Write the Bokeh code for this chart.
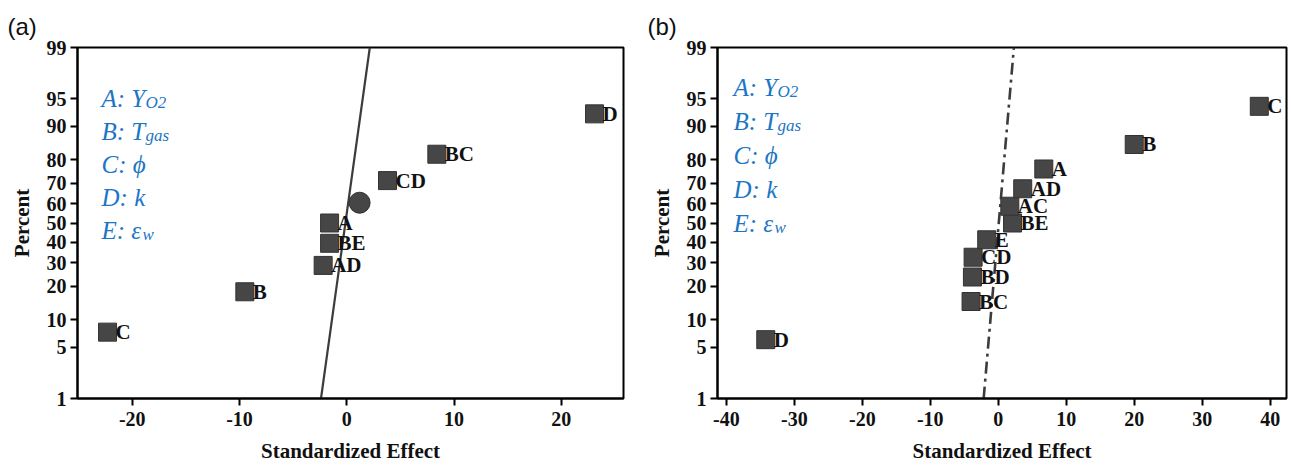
from statistics import NormalDist
from bokeh.plotting import figure
from bokeh.models import FixedTicker, Range1d, Label, ColumnDataSource
from bokeh.layouts import row
from bokeh.embed import file_html
from bokeh.resources import INLINE
from bokeh.core.properties import value

# ---------------- data ----------------
pct_ticks = [1, 5, 10, 20, 30, 40, 50, 60, 70, 80, 90, 95, 99]

a_terms = ["C", "B", "AD", "BE", "A", "CD", "BC", "D"]
a_effect = [-22.3, -9.5, -2.2, -1.6, -1.6, 3.8, 8.4, 23.1]
a_percent = [7.4, 18.1, 28.7, 39.4, 50.0, 71.3, 81.9, 92.6]
a_other_effect = [1.2]
a_other_percent = [60.6]
a_line_effect = [-2.4, 2.15]
a_line_percent = [1, 99]
a_xticks = [-20, -10, 0, 10, 20]

b_terms = ["D", "BC", "BD", "CD", "E", "BE", "AC", "AD", "A", "B", "C"]
b_effect = [-34.2, -4.0, -3.8, -3.7, -1.7, 2.1, 1.7, 3.6, 6.7, 20.0, 38.4]
b_percent = [6.1, 14.9, 23.7, 32.5, 41.2, 50.0, 58.8, 67.5, 76.3, 85.1, 93.9]
b_line_effect = [-2.15, 2.3]
b_line_percent = [1, 99]
b_xticks = [-40, -30, -20, -10, 0, 10, 20, 30, 40]

legend_main = ["A: Y", "B: T", "C: \u03d5", "D: k", "E: \u03b5"]
legend_sub = ["O2", "gas", "", "", "w"]

# ---------------- helpers ----------------
nd = NormalDist()
def z(p):
    return nd.inv_cdf(p / 100.0)

SERIF = "Liberation Serif"
BLUE = "#1c76c4"
MARK = "#464646"


def make_panel(tag, width, top, bottom, right, xr, xticks, terms, eff, pct,
               line_eff, line_pct, line_dash, line_width, other_eff=None,
               other_pct=None, legend_x=24, legend_y0=0.0, legend_step=33):
    height = 466
    p = figure(width=width, height=height, output_backend="svg",
               toolbar_location=None,
               x_range=Range1d(*xr), y_range=Range1d(z(1), z(99)),
               min_border_left=77, min_border_right=right,
               min_border_top=top, min_border_bottom=bottom)
    p.xgrid.visible = False
    p.ygrid.visible = False
    p.outline_line_color = "black"
    p.outline_line_width = 2
    p.background_fill_color = "white"
    p.border_fill_color = "white"

    # panel tag as title
    p.title.text = tag
    p.title.align = "left"
    p.title.offset = -70
    p.title.text_font = "Liberation Sans"
    p.title.text_font_style = "normal"
    p.title.text_font_size = "24px"
    p.title.text_color = "#111111"
    p.title.standoff = 15

    for ax in (p.xaxis[0], p.yaxis[0]):
        ax.axis_line_width = 2
        ax.axis_line_color = "black"
        ax.major_tick_line_width = 2
        ax.major_tick_out = 7
        ax.major_tick_in = 0
        ax.minor_tick_out = 0
        ax.minor_tick_in = 0
        ax.major_label_text_font = SERIF
        ax.major_label_text_font_style = "bold"
        ax.major_label_text_font_size = "20px"
        ax.major_label_text_color = "#111111"
        ax.axis_label_text_font = SERIF
        ax.axis_label_text_font_style = "bold"
        ax.axis_label_text_font_size = "21px"
        ax.axis_label_text_color = "#111111"

    p.xaxis.ticker = FixedTicker(ticks=xticks)
    p.xaxis.major_label_overrides = {t: str(t) for t in xticks}
    p.xaxis.major_label_standoff = 6
    p.xaxis.axis_label = "Standardized Effect"
    p.xaxis.axis_label_standoff = 10

    zt = [z(t) for t in pct_ticks]
    p.yaxis.ticker = FixedTicker(ticks=zt)
    p.yaxis.major_label_overrides = {k: str(t) for k, t in zip(zt, pct_ticks)}
    p.yaxis.major_label_standoff = 4
    p.yaxis.axis_label = "Percent"
    p.yaxis.axis_label_standoff = 10

    # reference line
    p.line([float(v) for v in line_eff], [z(v) for v in line_pct],
           line_color="#3c3c3c", line_width=line_width, line_dash=line_dash)

    src = ColumnDataSource(dict(x=eff, y=[z(v) for v in pct], t=terms))
    p.scatter("x", "y", source=src, marker="square", size=18,
              fill_color=MARK, line_color="#333333", line_width=1)
    p.text("x", "y", text="t", source=src, x_offset=8,
           text_baseline="middle", text_align="left",
           text_font=value(SERIF), text_font_style="bold",
           text_font_size="21px", text_color="#111111")
    if other_eff:
        p.scatter(other_eff, [z(v) for v in other_pct], marker="circle",
                  size=21, fill_color=MARK, line_color="#333333")

    # factor legend
    sub_off = [44, 44, 0, 0, 41]
    for i, (m, s) in enumerate(zip(legend_main, legend_sub)):
        yb = legend_y0 - i * legend_step
        p.add_layout(Label(x=legend_x, y=yb, x_units="screen",
                           y_units="screen", text=m,
                           text_font=SERIF, text_font_style="italic",
                           text_font_size="25px", text_color=BLUE,
                           text_baseline="alphabetic"))
        if s:
            p.add_layout(Label(x=legend_x + sub_off[i], y=yb - 4,
                               x_units="screen", y_units="screen", text=s,
                               text_font=SERIF,
                               text_font_style="italic",
                               text_font_size="17px", text_color=BLUE,
                               text_baseline="alphabetic"))
    return p


p1 = make_panel("(a)", 640, 47, 64, 17, (-25.1, 25.8), a_xticks,
                a_terms, a_effect, a_percent, a_line_effect, a_line_percent,
                "solid", 2.2, a_other_effect, a_other_percent,
                legend_x=24, legend_y0=402 - 101.7, legend_step=33)
p2 = make_panel("(b)", 651, 45, 68, 5, (-41.3, 42.4), b_xticks,
                b_terms, b_effect, b_percent, b_line_effect, b_line_percent,
                "12 5 3 5", 2.6, legend_x=16, legend_y0=398 - 86.7,
                legend_step=34)

layout = row(p1, p2)
open("out.html", "w").write(file_html(layout, INLINE))
